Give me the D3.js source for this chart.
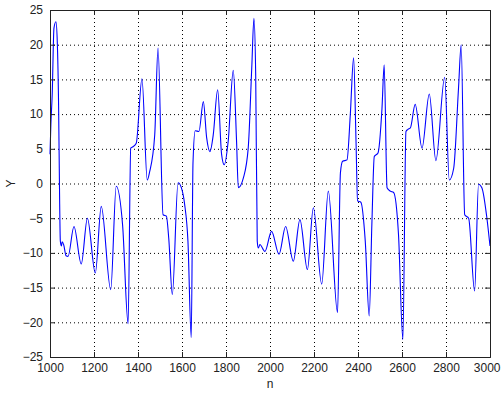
<!DOCTYPE html>
<html>
<head>
<meta charset="utf-8">
<script src="https://cdn.jsdelivr.net/npm/d3@7"></script>
<style>
  body { margin: 0; background: #fff; }
  text { font-family: "Liberation Sans", Arial, sans-serif; fill: #222; }
</style>
</head>
<body>
<div id="chart"></div>
<script>
// sample index n and response Y
var nValues = [
  1000, 1004, 1010, 1018, 1027, 1033, 1039, 1044, 1047, 1052, 1055, 1062, 1073, 1082,
  1109, 1142, 1170, 1206, 1233, 1276, 1301, 1330, 1355, 1367, 1377, 1392, 1418, 1442,
  1453, 1476, 1491, 1514, 1529, 1540, 1556, 1582, 1597, 1612, 1627, 1642, 1650, 1660,
  1677, 1697, 1712, 1727, 1742, 1762, 1780, 1792, 1810, 1833, 1848, 1856, 1879, 1901,
  1917, 1927, 1935, 1942, 1947, 1954, 1977, 2007, 2041, 2071, 2106, 2136, 2170, 2197,
  2235, 2265, 2307, 2320, 2330, 2350, 2365, 2380, 2391, 2398, 2413, 2433, 2451, 2463,
  2474, 2491, 2509, 2519, 2532, 2547, 2562, 2584, 2604, 2618, 2627, 2638, 2660, 2691,
  2724, 2754, 2794, 2815, 2835, 2857, 2869, 2885, 2903, 2930, 2948, 2963, 2986, 3000
];
var yValues = [
  4.2, 8.5, 12.8, 22.4, 23.3, 20.5, 11.4, -3, -8.3, -9, -8.4, -8.8, -10.4, -10.5,
  -6.2, -11.6, -5, -12.9, -3.3, -15.3, -0.4, -6, -20.2, 5.1, 5.3, 5.8, 15.1, 0.5,
  1.7, 7, 19.5, -4.5, -4.7, -8, -16, 0.1, -0.6, -3, -8.3, -22.2, 3, 7.6,
  7.5, 11.8, 6.6, 4.6, 7, 13.5, 4.2, 2.7, 6.1, 16.3, 6.1, -0.6, 0.8, 5.1,
  16.6, 23.8, 15.6, -8.3, -9.3, -8.8, -9.8, -6.9, -10.2, -6.2, -11.2, -5.2, -12.4, -3.5,
  -14.5, -1.1, -18.6, 1.5, 3.2, 3.4, 9.9, 18.1, 6.1, -2.5, -2.7, -8.3, -19.1, -5.9,
  3.9, 4.4, 10.8, 17.1, -0.6, -1.1, -1.3, -7.3, -22.5, 7.5, 7.8, 8, 11.4, 5.1,
  12.9, 3.3, 15.3, 0.5, 2.2, 13.8, 20, -4.5, -5, -15.5, -0.1, -0.6, -5, -9
];
var xTicks = [1000, 1200, 1400, 1600, 1800, 2000, 2200, 2400, 2600, 2800, 3000];
var yTicks = [-25, -20, -15, -10, -5, 0, 5, 10, 15, 20, 25];

var width = 501, height = 394;
var margin = {top: 10, right: 11, bottom: 37, left: 50};
var plotW = width - margin.left - margin.right;
var plotH = height - margin.top - margin.bottom;

var svg = d3.select("#chart").append("svg")
    .attr("width", width)
    .attr("height", height);

var x = d3.scaleLinear().domain([1000, 3000]).range([0, plotW]);
var y = d3.scaleLinear().domain([-25, 25]).range([plotH, 0]);

var g = svg.append("g")
    .attr("transform", "translate(" + margin.left + "," + margin.top + ")");

// dotted grid
g.selectAll(".vgrid").data(xTicks.slice(1, -1)).enter().append("line")
    .attr("x1", d => x(d) + 0.5).attr("x2", d => x(d) + 0.5)
    .attr("y1", 0).attr("y2", plotH)
    .style("stroke", "#000").style("stroke-dasharray", "1,3");
g.selectAll(".hgrid").data(yTicks.slice(1, -1)).enter().append("line")
    .attr("x1", 0).attr("x2", plotW)
    .attr("y1", d => y(d) + 0.5).attr("y2", d => y(d) + 0.5)
    .style("stroke", "#000").style("stroke-dasharray", "1,3");

// the signal
var pts = nValues.map((n, i) => [n, yValues[i]]);
var line = d3.line()
    .x(d => x(d[0]))
    .y(d => y(d[1]))
    .curve(d3.curveMonotoneX);

g.append("path")
    .datum(pts)
    .attr("d", line)
    .style("fill", "none")
    .style("stroke", "#0000ff")
    .style("stroke-width", 1.1);

// axes, ticks inward like matlab
var xAxis = d3.axisBottom(x).tickValues(xTicks).tickSize(-5).tickPadding(6).tickFormat(d3.format("d"));
var yAxis = d3.axisLeft(y).tickValues(yTicks).tickSize(-5).tickPadding(7).tickFormat(d3.format("d"));

var xg = g.append("g").attr("transform", "translate(0," + plotH + ")").call(xAxis);
g.append("g").call(yAxis);
g.append("g").call(d3.axisTop(x).tickValues(xTicks).tickSize(-5).tickFormat(""));
g.append("g").attr("transform", "translate(" + plotW + ",0)")
    .call(d3.axisRight(y).tickValues(yTicks).tickSize(-5).tickFormat(""));

g.selectAll(".domain").style("stroke", "#222");
g.selectAll(".tick line").style("stroke", "#222");
g.selectAll(".tick text").style("font-size", "12px").style("fill", "#222");

// last label sits at the window edge; keep it inside
xg.selectAll(".tick text").filter(d => d === 3000)
    .attr("text-anchor", "end").attr("x", 10);

svg.append("text")
    .attr("x", margin.left + plotW / 2)
    .attr("y", 388)
    .attr("text-anchor", "middle")
    .style("font-size", "12px")
    .text("n");

svg.append("text")
    .attr("transform", "translate(15," + (margin.top + plotH / 2) + ") rotate(-90)")
    .attr("text-anchor", "middle")
    .style("font-size", "12px")
    .text("Y");
</script>
</body>
</html>
